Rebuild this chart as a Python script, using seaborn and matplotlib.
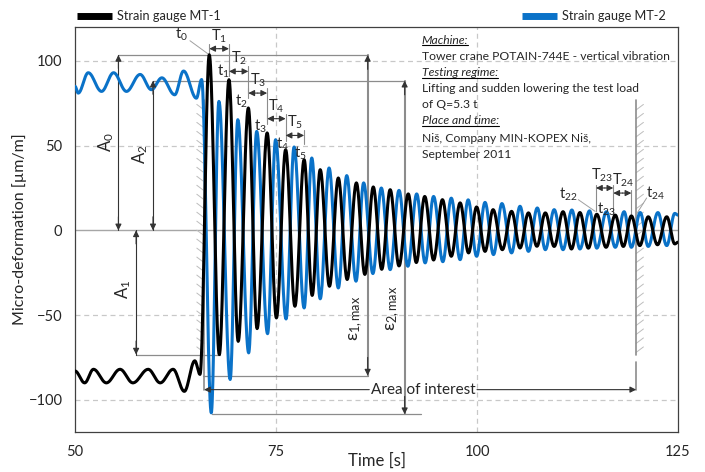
import numpy as np
import matplotlib
matplotlib.use("Agg")
import matplotlib.pyplot as plt
import seaborn as sns
from matplotlib.lines import Line2D

# ---------------- data (extrema) ----------------
mt1_time = [50.0, 51.2, 52.3, 53.9, 55.6, 57.2, 59.1, 60.6, 62.2, 63.6, 64.9, 65.55,
            66.7, 67.95, 69.15, 70.3, 71.56, 72.65, 73.9, 75.05, 76.2, 77.35, 78.5, 79.5,
            80.5, 81.65, 82.75, 83.85, 85.0, 86.05, 87.1, 88.15, 89.2, 90.3, 91.45, 92.45,
            93.5, 94.6, 95.7, 96.8, 97.9, 98.95, 99.95, 101.0, 102.0, 103.15, 104.3, 105.35,
            106.4, 107.45, 108.5, 109.6, 110.7, 111.75, 112.8, 113.85, 114.9, 116.05, 117.2,
            118.2, 119.2, 120.25, 121.3, 122.45, 123.6, 124.6, 125.0]
mt1_value = [-83, -90, -82, -90, -82, -90, -82, -90, -82, -95, -77, -85,
             103.6, -73.3, 88.9, -65.5, 72.2, -58, 57.5, -51.7, 47.6, -44.8, 41.7, -38.4,
             35.8, -33, 30.9, -29, 28, -26, 25.6, -23, 24, -21, 21.5, -19,
             20, -17.5, 18.1, -15.3, 16.2, -13.3, 13.8, -12.4, 12.2, -11.4, 11.2, -10.4,
             10.3, -9.4, 10.3, -9.5, 11.0, -11.0, 10.5, -10.5, 9.5, -10.0, 9.0,
             -9.5, 8.5, -9.0, 8.0, -8.5, 8.0, -8.0, -7.0]

mt2_time = [50.0, 50.4, 51.65, 53.3, 54.8, 56.4, 58.1, 59.5, 60.8, 62.4, 63.5, 65.1, 65.75,
            66.95, 67.9, 69.3, 70.25, 71.6, 72.6, 73.95, 74.95, 76.25, 77.25, 78.5, 79.45,
            80.5, 81.6, 82.75, 83.8, 84.95, 85.9, 87.05, 88.1, 89.2, 90.3, 91.4, 92.5,
            93.55, 94.6, 95.75, 96.8, 97.9, 98.9, 99.95, 101.0, 102.05, 103.1, 104.3, 105.35,
            106.4, 107.5, 108.5, 109.6, 110.7, 111.8, 112.8, 114.0, 114.9, 116.1, 117.2,
            118.3, 119.2, 120.3, 121.3, 122.5, 123.6, 124.6, 125.0]
mt2_value = [85, 81, 93, 82, 93, 82, 92, 83, 90, 80, 94, 78, 89,
             -107.7, 76.1, -88, 65.3, -72.3, 58.4, -61, 53.5, -52.3, 49.2, -45.8, 42.7,
             -40.4, 36.8, -34, 32.3, -30, 28, -25.5, 25, -23.2, 23.6, -21.2, 21.5,
             -19.2, 20, -18.5, 19, -17.3, 18, -15.3, 16.5, -14.3, 15.8, -13.3, 14.2,
             -12.4, 13.2, -11.4, 12.2, -11.4, 12.0, -11.0, 11.5, -10.5, 11.0, -10.0,
             11.0, -10.0, 10.5, -9.5, 10.5, -9.0, 10.0, 9.0]

x_ticks = [50, 75, 100, 125]
y_ticks = [-100, -50, 0, 50, 100]

BLUE = "#0a72c8"
GRAY = "#8c8c8c"
DARK = "#333333"


def wave(ts, vs, n=24):
    """Smooth half-cosine path between consecutive read extrema."""
    xs, ys = [], []
    for i in range(len(ts) - 1):
        s = np.linspace(0, 1, n, endpoint=False)
        xs.append(ts[i] + (ts[i + 1] - ts[i]) * s)
        ys.append(vs[i] + (vs[i + 1] - vs[i]) * (1 - np.cos(np.pi * s)) / 2)
    xs.append([ts[-1]])
    ys.append([vs[-1]])
    return np.concatenate(xs), np.concatenate(ys)


sns.set_style("white")
plt.rcParams['font.family'] = ['Lato', 'DejaVu Sans']
plt.rcParams['mathtext.fontset'] = 'custom'
plt.rcParams['mathtext.rm'] = 'Lato'
plt.rcParams['mathtext.it'] = 'Lato:italic'

W, H = 705, 472
fig = plt.figure(figsize=(W / 100, H / 100), dpi=100)
ax = fig.add_axes([75 / W, 1 - 432 / H, (678 - 75) / W, (432 - 27) / H])

# grid
for xv in [75, 100]:
    ax.axvline(xv, color="#c8c8c8", lw=0.9, ls=(0, (4, 3)), zorder=0)
for yv in [-100, -50, 50, 100]:
    ax.axhline(yv, color="#c8c8c8", lw=0.9, ls=(0, (4, 3)), zorder=0)
ax.axhline(0, color="#a6a6a6", lw=1.0, zorder=0.5)

# area-of-interest boundaries with hatching
xl, xr = 66.05, 119.8
ax.plot([xl, xl], [77, -94], color=GRAY, lw=1.2, zorder=1)
ax.plot([xr, xr], [77, -73.3], color=GRAY, lw=1.2, zorder=1)
ax.plot([xr, xr], [-77.7, -94], color=GRAY, lw=1.2, zorder=1)
for yy in np.arange(-72, 74, 5.3):
    ax.plot([xl, xl - 0.9], [yy, yy + 3.2], color="#bdbdbd", lw=0.7, zorder=0.8)
    ax.plot([xr, xr + 0.9], [yy, yy + 3.2], color="#bdbdbd", lw=0.7, zorder=0.8)

# curves
bx, by = wave(mt1_time, mt1_value)
gx, gy = wave(mt2_time, mt2_value)
sns.lineplot(x=bx, y=by, color="black", lw=2.2, sort=False, estimator=None, ax=ax, zorder=3)
sns.lineplot(x=gx, y=gy, color=BLUE, lw=2.2, sort=False, estimator=None, ax=ax, zorder=2.9)

ax.set_xlim(50, 125)
ax.set_ylim(-119, 120)
ax.set_xticks(x_ticks)
ax.set_yticks(y_ticks)
ax.set_xticks(np.arange(50, 126, 5), minor=True)
ax.set_yticks(np.arange(-100, 101, 25), minor=True)
ax.tick_params(which="both", direction="in", color="#404040", width=0.8)
ax.tick_params(which="major", length=5, labelsize=10.5, pad=9)
ax.tick_params(which="minor", length=4)
for sp in ax.spines.values():
    sp.set_color("#404040")
    sp.set_linewidth(0.9)
ax.set_xlabel("Time [s]", fontsize=12)
ax.xaxis.set_label_coords(0.5, -(461 - 432) / 405)
ax.xaxis.label.set_va("center")
ax.set_ylabel("Micro-deformation [µm/m]", fontsize=11.5)
ax.yaxis.set_label_coords((20 - 75) / 603, 0.5)
ax.yaxis.label.set_va("center")

# ----- annotation helpers -----
def hline(y, x0, x1, c=GRAY, lw=0.9):
    ax.plot([x0, x1], [y, y], color=c, lw=lw, zorder=1.5)

def arrow(x0, y0, x1, y1, style='-|>', c=DARK, lw=0.8, z=4):
    ax.annotate("", xy=(x1, y1), xytext=(x0, y0),
                arrowprops=dict(arrowstyle=style, color=c, lw=lw, shrinkA=0, shrinkB=0,
                                mutation_scale=9), zorder=z)

# A0, A1, A2
hline(103.5, 55.4, 86.4)
hline(88.3, 59.7, 91.0)
hline(-73.3, 57.6, 68.0)
hline(-85.7, 65.9, 86.4)
hline(-108.5, 67.1, 93.0)
ax.plot([55.4, 55.4], [0, 103.5], color=DARK, lw=0.8, zorder=1.6)
ax.plot([59.7, 59.7], [0, 88.3], color=DARK, lw=0.8, zorder=1.6)
ax.plot([57.6, 57.6], [0, -73.3], color=DARK, lw=0.8, zorder=1.6)
for xa, ya in [(55.4, 103.5), (55.4, 0), (59.7, 88.3), (59.7, 0), (57.6, -73.3), (57.6, 0)]:
    arrow(xa, ya - np.sign(ya - 20) * 8 if ya != 0 else (8 if xa != 57.6 else -8), xa, ya)
ax.text(53.9, 52, r"A$_0$", rotation=90, ha="center", va="center", fontsize=12)
ax.text(58.1, 45, r"A$_2$", rotation=90, ha="center", va="center", fontsize=12)
ax.text(56.0, -35, r"A$_1$", rotation=90, ha="center", va="center", fontsize=12)

# epsilon max
ax.plot([86.4, 86.4], [103.5, -85.7], color=GRAY, lw=1.5, zorder=1.5)
ax.plot([91.0, 91.0], [88.3, -108.5], color=GRAY, lw=1.5, zorder=1.5)
arrow(86.4, 95, 86.4, 103.5)
arrow(86.4, -75, 86.4, -85.7)
arrow(91.0, 80, 91.0, 88.3)
arrow(91.0, -98, 91.0, -108.5)
ax.text(85.0, -52, "ε" + r"$_{1,\mathrm{max}}$", rotation=90, ha="center", va="center", fontsize=13)
ax.text(89.6, -46, "ε" + r"$_{2,\mathrm{max}}$", rotation=90, ha="center", va="center", fontsize=13)

# area of interest
ax.text(93.3, -94, "Area of interest", ha="center", va="center", fontsize=11)
arrow(86.6, -94, xl, -94)
arrow(100.0, -94, xr, -94)

# periods T1..T5
peaks = [66.7, 69.15, 71.56, 73.9, 76.2, 78.5]
t_levels = [107.2, 93.8, 81, 65.9, 56]
for k in range(5):
    x0, x1, yk = peaks[k], peaks[k + 1], t_levels[k]
    arrow((x0 + x1) / 2, yk, x0, yk)
    arrow((x0 + x1) / 2, yk, x1, yk)
    nxt = t_levels[k + 1] if k < 4 else yk - 5
    ax.plot([x1, x1], [yk + 3, nxt], color=GRAY, lw=0.8, zorder=1.5)
    ax.plot([x0, x0], [yk + 3, yk - 3], color=GRAY, lw=0.8, zorder=1.5)
    ax.text((x0 + x1) / 2, yk + 7.5, r"T$_%d$" % (k + 1), ha="center", va="center", fontsize=10.5)
t_lab = [(63.3, 115.5), (68.45, 93.8), (70.7, 76.1), (73.0, 61.4), (75.8, 50.6), (78.0, 45.7)]
for k, (tx, ty) in enumerate(t_lab):
    ax.text(tx, ty, r"t$_%d$" % k, ha="center", va="center", fontsize=10.5, zorder=5)
ax.plot([64.3, 66.7], [111.9, 103.6], color="#a0a0a0", lw=0.7, zorder=1.5)

# T23, T24
ax.plot([114.8, 114.8], [27, 11.5], color=GRAY, lw=0.8, zorder=1.5)
ax.plot([116.95, 116.95], [27, 8], color=GRAY, lw=0.8, zorder=1.5)
ax.plot([119.2, 119.2], [24, 7], color=GRAY, lw=0.8, zorder=1.5)
arrow(115.9, 25, 114.8, 25); arrow(115.9, 25, 116.95, 25)
arrow(118.1, 22, 116.95, 22); arrow(118.1, 22, 119.2, 22)
ax.text(115.6, 32.5, r"T$_{23}$", ha="center", va="center", fontsize=10.5)
ax.text(118.2, 29.5, r"T$_{24}$", ha="center", va="center", fontsize=10.5)
ax.text(111.4, 21.5, r"t$_{22}$", ha="center", va="center", fontsize=10.5)
ax.text(116.1, 12.5, r"t$_{23}$", ha="center", va="center", fontsize=10.5, zorder=5)
ax.text(122.2, 22, r"t$_{24}$", ha="center", va="center", fontsize=10.5)
ax.plot([112.6, 114.7], [18.1, 11.2], color="#a0a0a0", lw=0.7, zorder=1.5)
ax.plot([121.1, 119.8], [19.1, 9.3], color="#a0a0a0", lw=0.7, zorder=1.5)

# ----- legend (top) -----
fig.add_artist(Line2D([76.7 / W, 111.7 / W], [1 - 15.7 / H] * 2, color="black", lw=5,
                      solid_capstyle="butt"))
fig.text(116.7 / W, 1 - 15.7 / H, "Strain gauge MT-1", va="center", ha="left", fontsize=9.2)
fig.add_artist(Line2D([521.7 / W, 556.7 / W], [1 - 15.7 / H] * 2, color=BLUE, lw=5,
                      solid_capstyle="butt"))
fig.text(561.7 / W, 1 - 15.7 / H, "Strain gauge MT-2", va="center", ha="left", fontsize=9.2)

# ----- info block -----
info = [("Machine:", True, 40), ("Tower crane POTAIN-744E - vertical vibration", False, 57),
        ("Testing regime:", True, 73), ("Lifting and sudden lowering the test load", False, 89),
        ("of Q=5.3 t", False, 104), ("Place and time:", True, 121),
        ("Niš, Company MIN-KOPEX Niš,", False, 138), ("September 2011", False, 155)]
heads = []
for txt, it, ypx in info:
    t = fig.text(421.7 / W, 1 - ypx / H, txt, va="center", ha="left", fontsize=8.7,
                 style="italic" if it else "normal")
    if it:
        heads.append(t)
fig.canvas.draw()
r = fig.canvas.get_renderer()
for t in heads:
    bb = t.get_window_extent(r)
    fig.add_artist(Line2D([bb.x0 / W, bb.x1 / W], [(bb.y0 + 1) / H] * 2, color="black", lw=0.8))

fig.savefig("out.png", dpi=100)
